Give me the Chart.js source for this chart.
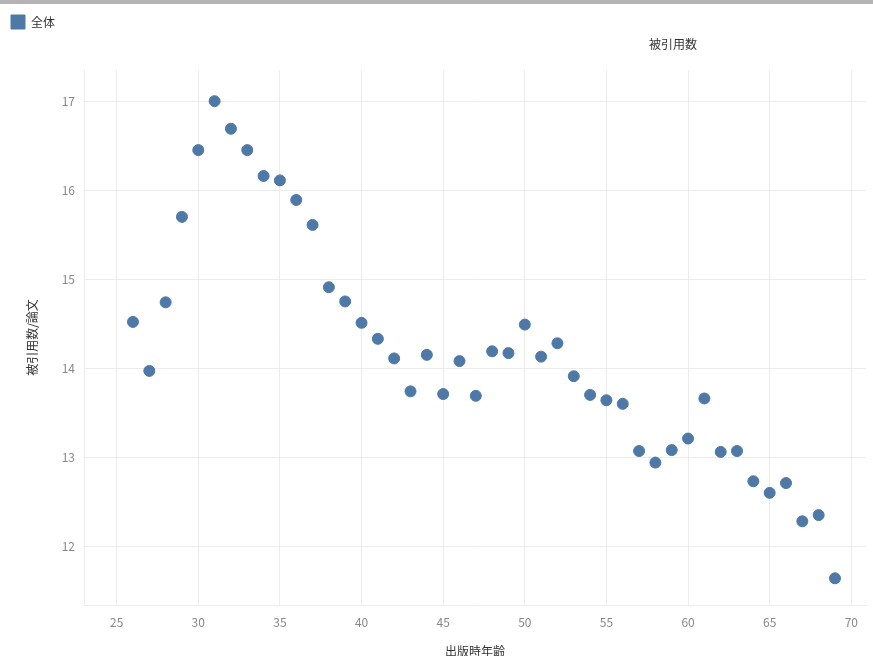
<!DOCTYPE html>
<html>
<head>
<meta charset="utf-8">
<script src="https://cdn.jsdelivr.net/npm/chart.js@4"></script>
<style>
  html, body { margin: 0; padding: 0; background: #fff; }
  body { border-top: 4px solid #b3b3b3; box-sizing: border-box; width: 873px; height: 656px; }
  #wrap { position: relative; width: 873px; height: 652px; }
</style>
</head>
<body>
<div id="wrap"><canvas id="myChart"></canvas></div>
<script>
// 出版時年齢 (age at publication)
const ages = [26, 27, 28, 29, 30, 31, 32, 33, 34, 35, 36, 37, 38, 39, 40, 41, 42, 43, 44, 45, 46, 47,
              48, 49, 50, 51, 52, 53, 54, 55, 56, 57, 58, 59, 60, 61, 62, 63, 64, 65, 66, 67, 68, 69];
// 被引用数/論文
const citations = [14.52, 13.97, 14.74, 15.70, 16.45, 17.00, 16.69, 16.45, 16.16, 16.11, 15.89, 15.61,
                   14.91, 14.75, 14.51, 14.33, 14.11, 13.74, 14.15, 13.71, 14.08, 13.69,
                   14.19, 14.17, 14.49, 14.13, 14.28, 13.91, 13.70, 13.64, 13.60, 13.07, 12.94, 13.08,
                   13.21, 13.66, 13.06, 13.07, 12.73, 12.60, 12.71, 12.28, 12.35, 11.64];
const xTicks = [25, 30, 35, 40, 45, 50, 55, 60, 65, 70];
const yTicks = [12, 13, 14, 15, 16, 17];

const seriesName = '全体';
const titleText = '被引用数';
const FONT = "'Noto Sans CJK JP', 'Noto Sans', sans-serif";
const BLUE = '#4e79a7';
const GRID = '#ececec';

const points = ages.map((a, i) => ({x: a, y: citations[i]}));

// header title drawn over the right half, like the original
const headerTitle = {
  id: 'headerTitle',
  afterDraw(chart) {
    const ctx = chart.ctx;
    ctx.save();
    ctx.font = '12px ' + FONT;
    ctx.fillStyle = '#333';
    ctx.textAlign = 'center';
    ctx.textBaseline = 'middle';
    ctx.fillText(titleText, 673, 40);
    ctx.restore();
  }
};

// make the legend block a fixed height so the plot starts where it should
const legendHeight = {
  id: 'legendHeight',
  beforeInit(chart) {
    const fit = chart.legend.fit;
    chart.legend.fit = function () {
      fit.bind(chart.legend)();
      this.height = 66;
    };
  }
};

const data = {
  datasets: [{
    label: seriesName,
    data: points,
    backgroundColor: BLUE,
    borderColor: BLUE,
    pointRadius: 5.5,
    pointHoverRadius: 6,
    showLine: false
  }]
};

const config = {
  type: 'scatter',
  data: data,
  plugins: [headerTitle, legendHeight],
  options: {
    responsive: true,
    maintainAspectRatio: false,
    animation: false,
    layout: { padding: 0 },
    plugins: {
      legend: {
        position: 'top',
        align: 'start',
        labels: {
          boxWidth: 14,
          boxHeight: 14,
          padding: 11,
          color: '#333',
          font: { family: FONT, size: 12 }
        }
      },
      tooltip: { enabled: false }
    },
    scales: {
      x: {
        type: 'linear',
        min: 23,
        max: 70.9,
        afterBuildTicks: s => { s.ticks = xTicks.map(v => ({value: v})); },
        afterFit: s => { s.height = 51; },
        grid: { color: GRID, drawTicks: false },
        border: { color: GRID },
        ticks: { color: '#888', padding: 10, font: { family: FONT, size: 12 } },
        title: {
          display: true,
          text: '出版時年齢',
          color: '#333',
          padding: { top: 13, bottom: -3 },
          font: { family: FONT, size: 12 }
        }
      },
      y: {
        min: 11.34,
        max: 17.35,
        afterBuildTicks: s => { s.ticks = yTicks.map(v => ({value: v})); },
        afterFit: s => { s.width = 84; },
        grid: { color: GRID, drawTicks: false },
        border: { color: GRID },
        ticks: { color: '#888', padding: 9, font: { family: FONT, size: 12 } },
        title: {
          display: true,
          text: '被引用数/論文',
          color: '#333',
          padding: { top: 25, bottom: 4 },
          font: { family: FONT, size: 12 }
        }
      }
    }
  }
};

const myChart = new Chart(document.getElementById('myChart'), config);
</script>
</body>
</html>
